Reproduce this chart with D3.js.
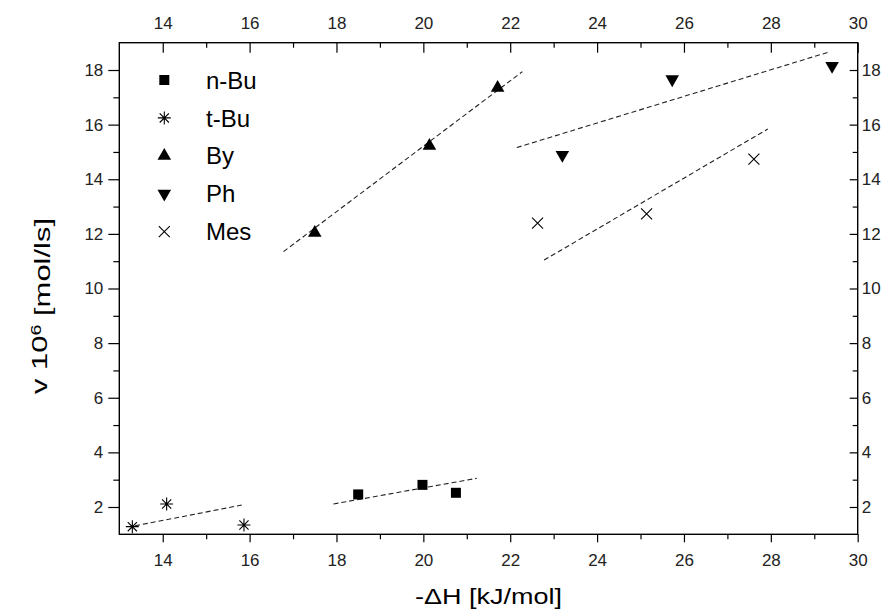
<!DOCTYPE html>
<html>
<head>
<meta charset="utf-8">
<script src="https://cdn.jsdelivr.net/npm/d3@7"></script>
<style>
  html, body { margin: 0; padding: 0; background: #fff; }
  svg { display: block; font-family: "Liberation Sans", Arial, sans-serif; }
</style>
</head>
<body>
<svg id="chart" width="893" height="612"></svg>
<script>
// Measured points for each substituent: -ΔH [kJ/mol] vs v·10^6 [mol/ls]
const seriesNames = ["n-Bu", "t-Bu", "By", "Ph", "Mes"];
const nBuX = [18.50, 19.98, 20.75];
const nBuY = [2.46, 2.81, 2.52];
const tBuX = [13.30, 14.09, 15.87];
const tBuY = [1.28, 2.11, 1.34];
const byX  = [17.50, 20.14, 21.71];
const byY  = [12.04, 15.22, 17.35];
const phX  = [23.20, 25.73, 29.41];
const phY  = [14.89, 17.66, 18.15];
const mesX = [22.63, 25.14, 27.61];
const mesY = [12.39, 12.73, 14.74];

// Dashed trend lines: [x0, x1] and [y0, y1] per series
const fitNBuX = [17.93, 21.23], fitNBuY = [2.11, 3.05];
const fitTBuX = [13.36, 15.82], fitTBuY = [1.31, 2.07];
const fitByX  = [16.78, 22.28], fitByY  = [11.35, 17.94];
const fitPhX  = [22.15, 29.36], fitPhY  = [15.16, 18.67];
const fitMesX = [22.78, 27.93], fitMesY = [11.04, 15.84];

// Axis ranges and tick values
const xDomain = [13, 30];
const yDomain = [1, 19];
const xMajor = [14, 16, 18, 20, 22, 24, 26, 28, 30];
const xMinor = [15, 17, 19, 21, 23, 25, 27, 29];
const yMajor = [2, 4, 6, 8, 10, 12, 14, 16, 18];
const yMinor = [3, 5, 7, 9, 11, 13, 15, 17];

const svg = d3.select("#chart");
const L = 119.3, R = 857.7, T = 42.7, B = 534.3;

const x = d3.scaleLinear().domain(xDomain).range([L, R]);
const y = d3.scaleLinear().domain(yDomain).range([B, T]);

const tickFont = "17px";

function styleAxis(g) {
  g.select(".domain").remove();
  g.selectAll("line").attr("stroke", "#000").attr("stroke-width", 1.2);
  g.selectAll("text").attr("fill", "#222").style("font-size", tickFont)
    .style("font-family", "'Liberation Sans', Arial, sans-serif");
}

// Bottom axis (ticks outward)
svg.append("g").attr("transform", `translate(0,${B})`)
  .call(d3.axisBottom(x).tickValues(xMajor).tickSize(8).tickPadding(12).tickFormat(d3.format("d")))
  .call(styleAxis);
svg.append("g").attr("transform", `translate(0,${B})`)
  .call(d3.axisBottom(x).tickValues(xMinor).tickSize(5).tickFormat(""))
  .call(styleAxis);

// Top axis (ticks inward)
svg.append("g").attr("transform", `translate(0,${T})`)
  .call(d3.axisTop(x).tickValues(xMajor).tickSize(-10).tickPadding(14).tickFormat(d3.format("d")))
  .call(styleAxis);
svg.append("g").attr("transform", `translate(0,${T})`)
  .call(d3.axisTop(x).tickValues(xMinor).tickSize(-5).tickFormat(""))
  .call(styleAxis);

// Left axis (ticks outward)
svg.append("g").attr("transform", `translate(${L},0)`)
  .call(d3.axisLeft(y).tickValues(yMajor).tickSize(11).tickPadding(5).tickFormat(d3.format("d")))
  .call(styleAxis);
svg.append("g").attr("transform", `translate(${L},0)`)
  .call(d3.axisLeft(y).tickValues(yMinor).tickSize(6).tickFormat(""))
  .call(styleAxis);

// Right axis (ticks inward)
svg.append("g").attr("transform", `translate(${R},0)`)
  .call(d3.axisRight(y).tickValues(yMajor).tickSize(-8).tickPadding(4).tickFormat(d3.format("d")))
  .call(styleAxis);
svg.append("g").attr("transform", `translate(${R},0)`)
  .call(d3.axisRight(y).tickValues(yMinor).tickSize(-5).tickFormat(""))
  .call(styleAxis);

// Plot frame
svg.append("rect")
  .attr("x", L).attr("y", T).attr("width", R - L).attr("height", B - T)
  .attr("fill", "none").attr("stroke", "#000").attr("stroke-width", 1.4);

// Trend lines
const fits = [
  [fitNBuX, fitNBuY], [fitTBuX, fitTBuY], [fitByX, fitByY], [fitPhX, fitPhY], [fitMesX, fitMesY]
];
svg.append("g").selectAll("line").data(fits).join("line")
  .attr("x1", d => x(d[0][0])).attr("y1", d => y(d[1][0]))
  .attr("x2", d => x(d[0][1])).attr("y2", d => y(d[1][1]))
  .attr("stroke", "#222").attr("stroke-width", 1.1)
  .attr("stroke-dasharray", "5,3");

// Marker drawing helpers
const sq = d3.symbol().type(d3.symbolSquare).size(100)();
const tri = d3.symbol().type(d3.symbolTriangle).size(80)();
const star = "M0,-6.5V6.5M-6.5,0H6.5M-4.6,-4.6L4.6,4.6M-4.6,4.6L4.6,-4.6";
const cross = "M-5.5,-5.5L5.5,5.5M-5.5,5.5L5.5,-5.5";

const markers = [
  { path: sq,    fill: "#000", stroke: "none", rot: 0 },
  { path: star,  fill: "none", stroke: "#000", rot: 0 },
  { path: tri,   fill: "#000", stroke: "none", rot: 0 },
  { path: tri,   fill: "#000", stroke: "none", rot: 180 },
  { path: cross, fill: "none", stroke: "#000", rot: 0 }
];

function drawMarker(g, m, cx, cy) {
  g.append("path")
    .attr("d", m.path)
    .attr("transform", `translate(${cx},${cy}) rotate(${m.rot})`)
    .attr("fill", m.fill)
    .attr("stroke", m.stroke)
    .attr("stroke-width", 1.1);
}

const series = [[nBuX, nBuY], [tBuX, tBuY], [byX, byY], [phX, phY], [mesX, mesY]];
const pts = svg.append("g");
series.forEach((s, i) => {
  s[0].forEach((xv, j) => drawMarker(pts, markers[i], x(xv), y(s[1][j])));
});

// Legend
const leg = svg.append("g");
seriesNames.forEach((name, i) => {
  const cy = 80 + i * 37.9;
  drawMarker(leg, markers[i], 164.3, cy);
  leg.append("text")
    .attr("x", 206).attr("y", cy)
    .attr("dy", "0.36em")
    .style("font-size", "24px")
    .attr("fill", "#000")
    .text(name);
});

// Axis titles
svg.append("text")
  .attr("x", 415).attr("y", 604)
  .attr("textLength", 147).attr("lengthAdjust", "spacingAndGlyphs")
  .style("font-size", "22px")
  .attr("fill", "#000")
  .text("-ΔH [kJ/mol]");

const yt = svg.append("text")
  .attr("transform", "translate(47,394) rotate(-90)")
  .attr("textLength", 176).attr("lengthAdjust", "spacingAndGlyphs")
  .style("font-size", "22px")
  .attr("fill", "#000");
yt.append("tspan").text("v 10");
yt.append("tspan").attr("dy", "-0.4em").style("font-size", "14px").text("6");
yt.append("tspan").attr("dy", "0.4em").text(" [mol/ls]");
</script>
</body>
</html>
